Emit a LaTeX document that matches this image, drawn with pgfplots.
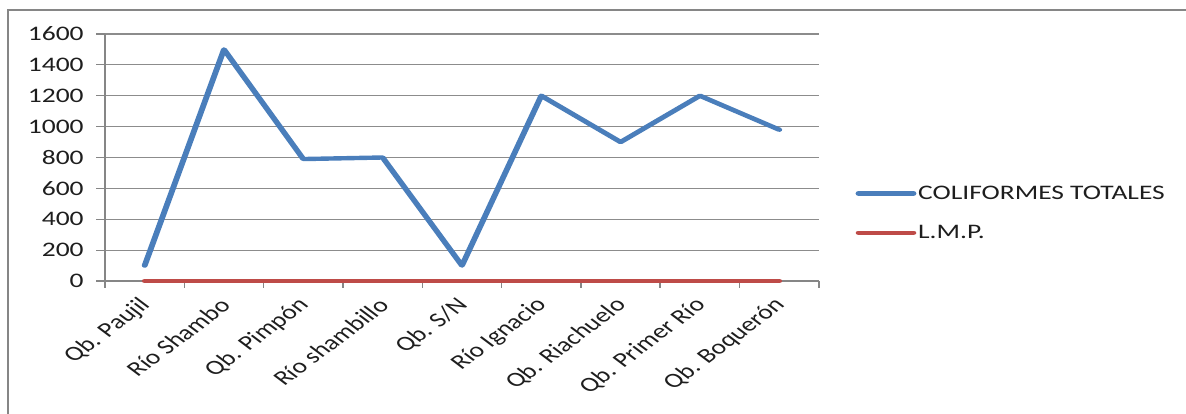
\documentclass[border=0pt]{standalone}
\usepackage{graphicx}
\usepackage{pgfplots}
\pgfplotsset{compat=1.18}
\usepackage{pgfplotstable}
\usepackage{fontspec}
\setmainfont{Carlito}

\definecolor{serieA}{RGB}{74,126,187}
\definecolor{serieB}{RGB}{190,75,72}
\definecolor{marco}{RGB}{134,134,134}
\definecolor{rejilla}{RGB}{140,140,140}
\definecolor{texto}{RGB}{30,30,30}

% Coliformes totales por punto de muestreo y limite maximo permisible
\pgfplotstableread{
idx val lmp
0 100 0
1 1500 0
2 790 0
3 800 0
4 100 0
5 1200 0
6 900 0
7 1200 0
8 980 0
}\coliformes

\newcommand{\fuente}{\fontsize{15.5}{18}\selectfont}

\begin{document}
\scalebox{1.33}[1]{%
\begin{tikzpicture}
\useasboundingbox (0pt,0pt) rectangle (668.8pt,310.5pt);
\draw[marco, line width=1.3pt] (4.7pt,-5pt) -- (4.7pt,303pt) -- (680pt,303pt);
\begin{axis}[
  at={(59.21pt,99.75pt)}, anchor=south west,
  scale only axis, width=402.6pt, height=185.25pt,
  xmin=-0.5, xmax=8.5, ymin=0, ymax=1600,
  clip=false,
  axis x line*=bottom, axis y line*=left,
  axis line style={marco, line width=0.9pt},
  ymajorgrids, grid style={rejilla, line width=0.85pt},
  ytick={0,200,...,1600},
  yticklabel style={xshift=-3.5pt},
  xtick={-0.5,0.5,...,8.5}, xticklabels={},
  extra x ticks={0,1,...,8},
  extra x tick labels={Qb. Paujil, Río Shambo, Qb. Pimpón, Río shambillo, Qb. S/N, Río Ignacio, Qb. Riachuelo, Qb. Primer Río, Qb. Boquerón},
  extra x tick style={tick style={draw=none},
    xticklabel style={yshift=-10pt, xshift=1.5pt, rotate=45, anchor=east, inner sep=1pt}},
  tick align=outside, major tick length=5pt,
  tick style={marco, line width=0.9pt},
  every tick label/.append style={font=\fuente, text=texto},
  /pgf/number format/assume math mode=true,
  /pgf/number format/1000 sep={},
  legend style={draw=none, fill=none, at={(1.0434,0.2753)}, anchor=west,
    font=\fuente, text=texto, row sep=16pt, nodes={inner sep=1pt}},
  legend cell align=left,
  legend image code/.code={\draw[#1] (0pt,0pt) -- (31pt,0pt);},
]
\addplot[serieA, line width=3.3pt, line join=round, line cap=round] table[x=idx, y=val] {\coliformes};
\addlegendentry{COLIFORMES TOTALES}
\addplot[serieB, line width=3.2pt, line cap=round] table[x=idx, y=lmp] {\coliformes};
\addlegendentry{L.M.P.}
\end{axis}
\end{tikzpicture}}
\end{document}
